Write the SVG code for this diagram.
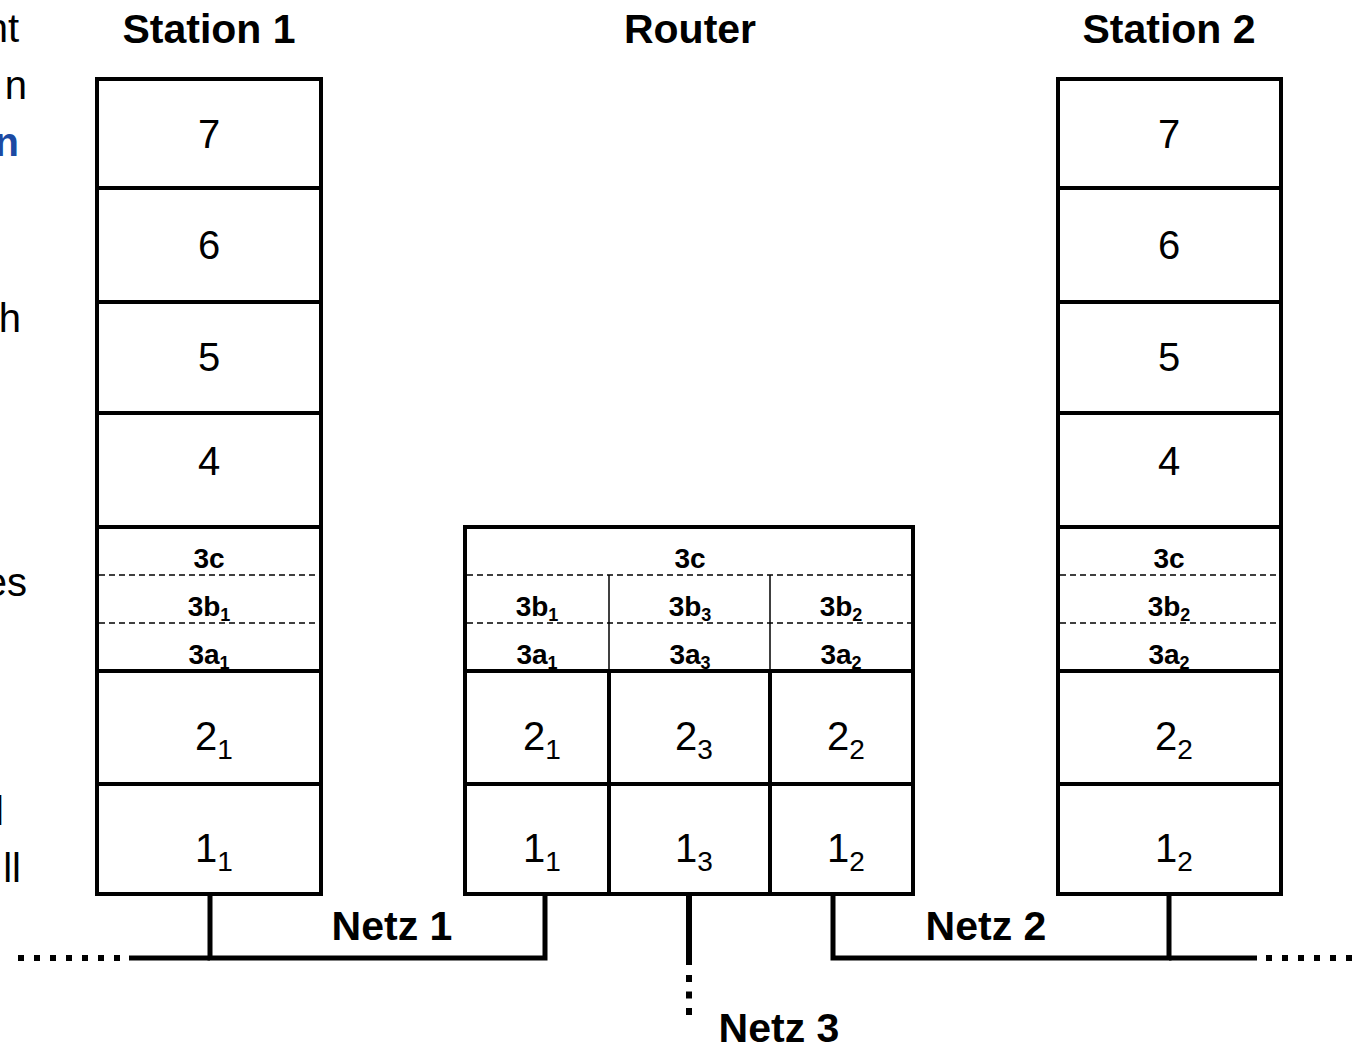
<svg xmlns="http://www.w3.org/2000/svg" width="1356" height="1046" viewBox="0 0 1356 1046">
  <style>
    text { font-family: "Liberation Sans", Arial, sans-serif; fill: #000; }
    .title { font-size: 41px; font-weight: bold; text-anchor: middle; }
    .layer { font-size: 40px; text-anchor: middle; }
    .sub { font-size: 28px; }
    .l3 { font-size: 28px; font-weight: bold; text-anchor: middle; }
    .l3sub { font-size: 18px; }
    .side { font-size: 40px; text-anchor: end; }
    .box { fill: #fff; stroke: #000; stroke-width: 4; }
    .div { stroke: #000; stroke-width: 4; }
    .thin { stroke: #000; stroke-width: 1.5; }
    .dash { stroke: #000; stroke-width: 1.5; stroke-dasharray: 6 4; }
    .wire { stroke: #000; stroke-width: 5; fill: none; }
    .dots { stroke: #000; stroke-width: 6; stroke-dasharray: 6 10; fill: none; }
  </style>

  <!-- text cut off at the left edge -->
  <g id="margin-text">
    <text class="side" x="19" y="42">nt</text>
    <text class="side" x="27" y="99">n</text>
    <text class="side" x="19" y="156" style="fill:#1c4aa3;font-weight:bold">n</text>
    <text class="side" x="21" y="332">h</text>
    <text class="side" x="27" y="596">es</text>
    <text class="side" x="4" y="825">l</text>
    <text class="side" x="21" y="882">ll</text>
  </g>

  <!-- headings -->
  <text class="title" x="209" y="43">Station 1</text>
  <text class="title" x="690" y="43">Router</text>
  <text class="title" x="1169" y="43">Station 2</text>

  <!-- connectors -->
  <g id="connectors">
    <polyline class="wire" points="210,894 210,958 545,958 545,894"/>
    <line class="dots" x1="18" y1="958" x2="124" y2="958"/>
    <line class="wire" x1="129" y1="958" x2="210" y2="958"/>
    <polyline class="wire" points="833,894 833,958 1169,958 1169,894"/>
    <line class="wire" x1="1169" y1="958" x2="1257" y2="958"/>
    <line class="dots" x1="1266" y1="958" x2="1354" y2="958"/>
    <line class="wire" x1="689" y1="894" x2="689" y2="965" style="stroke-width:6"/>
    <line class="dots" x1="689" y1="975" x2="689" y2="1016" style="stroke-dasharray:7 9.5"/>
    <text class="title" x="392" y="940">Netz 1</text>
    <text class="title" x="986" y="940">Netz 2</text>
    <text class="title" x="779" y="1042">Netz 3</text>
  </g>

  <!-- Station 1 stack -->
  <g id="station1">
    <rect class="box" x="97" y="79" width="224" height="815"/>
    <line class="div" x1="97" y1="188" x2="321" y2="188"/>
    <line class="div" x1="97" y1="302" x2="321" y2="302"/>
    <line class="div" x1="97" y1="413" x2="321" y2="413"/>
    <line class="div" x1="97" y1="527" x2="321" y2="527"/>
    <line class="dash" x1="99" y1="575" x2="319" y2="575"/>
    <line class="dash" x1="99" y1="623" x2="319" y2="623"/>
    <line class="div" x1="97" y1="671" x2="321" y2="671"/>
    <line class="div" x1="97" y1="784" x2="321" y2="784"/>
    <text class="layer" x="209" y="148">7</text>
    <text class="layer" x="209" y="259">6</text>
    <text class="layer" x="209" y="371">5</text>
    <text class="layer" x="209" y="475">4</text>
    <text class="l3" x="209" y="568">3c</text>
    <text class="l3" x="209" y="616">3b<tspan class="l3sub" dy="5">1</tspan></text>
    <text class="l3" x="209" y="664">3a<tspan class="l3sub" dy="5">1</tspan></text>
    <text class="layer" x="214" y="750">2<tspan class="sub" dy="9">1</tspan></text>
    <text class="layer" x="214" y="862">1<tspan class="sub" dy="9">1</tspan></text>
  </g>

  <!-- Router stack -->
  <g id="router">
    <rect class="box" x="465" y="527" width="448" height="367"/>
    <line class="dash" x1="467" y1="575" x2="911" y2="575"/>
    <line class="dash" x1="467" y1="623" x2="911" y2="623"/>
    <line class="thin" x1="609" y1="575" x2="609" y2="671"/>
    <line class="thin" x1="770" y1="575" x2="770" y2="671"/>
    <line class="div" x1="465" y1="671" x2="913" y2="671"/>
    <line class="div" x1="609" y1="671" x2="609" y2="894"/>
    <line class="div" x1="770" y1="671" x2="770" y2="894"/>
    <line class="div" x1="465" y1="784" x2="913" y2="784"/>
    <text class="l3" x="690" y="568">3c</text>
    <text class="l3" x="537" y="616">3b<tspan class="l3sub" dy="5">1</tspan></text>
    <text class="l3" x="690" y="616">3b<tspan class="l3sub" dy="5">3</tspan></text>
    <text class="l3" x="841" y="616">3b<tspan class="l3sub" dy="5">2</tspan></text>
    <text class="l3" x="537" y="664">3a<tspan class="l3sub" dy="5">1</tspan></text>
    <text class="l3" x="690" y="664">3a<tspan class="l3sub" dy="5">3</tspan></text>
    <text class="l3" x="841" y="664">3a<tspan class="l3sub" dy="5">2</tspan></text>
    <text class="layer" x="542" y="750">2<tspan class="sub" dy="9">1</tspan></text>
    <text class="layer" x="694" y="750">2<tspan class="sub" dy="9">3</tspan></text>
    <text class="layer" x="846" y="750">2<tspan class="sub" dy="9">2</tspan></text>
    <text class="layer" x="542" y="862">1<tspan class="sub" dy="9">1</tspan></text>
    <text class="layer" x="694" y="862">1<tspan class="sub" dy="9">3</tspan></text>
    <text class="layer" x="846" y="862">1<tspan class="sub" dy="9">2</tspan></text>
  </g>

  <!-- Station 2 stack -->
  <g id="station2">
    <rect class="box" x="1058" y="79" width="223" height="815"/>
    <line class="div" x1="1058" y1="188" x2="1281" y2="188"/>
    <line class="div" x1="1058" y1="302" x2="1281" y2="302"/>
    <line class="div" x1="1058" y1="413" x2="1281" y2="413"/>
    <line class="div" x1="1058" y1="527" x2="1281" y2="527"/>
    <line class="dash" x1="1060" y1="575" x2="1279" y2="575"/>
    <line class="dash" x1="1060" y1="623" x2="1279" y2="623"/>
    <line class="div" x1="1058" y1="671" x2="1281" y2="671"/>
    <line class="div" x1="1058" y1="784" x2="1281" y2="784"/>
    <text class="layer" x="1169" y="148">7</text>
    <text class="layer" x="1169" y="259">6</text>
    <text class="layer" x="1169" y="371">5</text>
    <text class="layer" x="1169" y="475">4</text>
    <text class="l3" x="1169" y="568">3c</text>
    <text class="l3" x="1169" y="616">3b<tspan class="l3sub" dy="5">2</tspan></text>
    <text class="l3" x="1169" y="664">3a<tspan class="l3sub" dy="5">2</tspan></text>
    <text class="layer" x="1174" y="750">2<tspan class="sub" dy="9">2</tspan></text>
    <text class="layer" x="1174" y="862">1<tspan class="sub" dy="9">2</tspan></text>
  </g>
</svg>
